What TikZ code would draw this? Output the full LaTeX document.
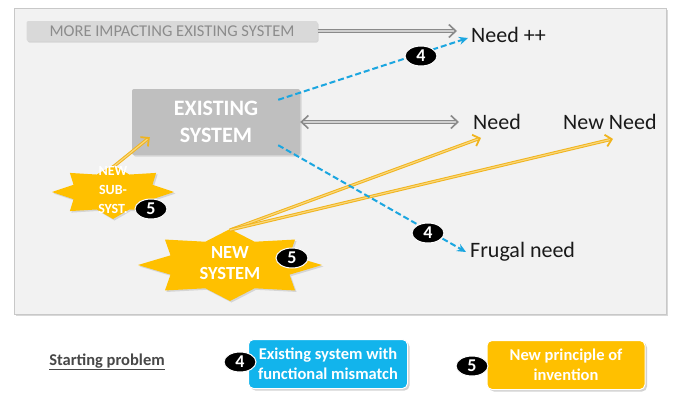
\documentclass[tikz,border=0pt]{standalone}
\usepackage{fontspec}
\setmainfont{Carlito}
\usetikzlibrary{arrows.meta,shapes.geometric,shadows,calc}
\definecolor{panelfill}{HTML}{F2F2F2}
\definecolor{panelline}{HTML}{C8C8C8}
\definecolor{barfill}{HTML}{D9D9D9}
\definecolor{bartext}{HTML}{8C8C8C}
\definecolor{existfill}{HTML}{BFBFBF}
\definecolor{blueln}{HTML}{1BA6E0}
\definecolor{legblue}{HTML}{12B4EC}
\definecolor{gold}{HTML}{FFC000}
\definecolor{goldln}{HTML}{F0B41E}
\definecolor{goldin}{HTML}{FAD77A}
\definecolor{grayln}{HTML}{8A8A8A}
\definecolor{grayin}{HTML}{D0D0D0}
\definecolor{darktext}{HTML}{1A1A1A}
\tikzset{
  lbl/.style={anchor=west, text=darktext, font=\fontsize{22}{22}\selectfont, inner sep=0pt},
  badge/.style={ellipse, fill=black, draw=white, line width=1pt, text=white,
    font=\bfseries\fontsize{18}{18}\selectfont, minimum width=32pt, minimum height=20pt, inner sep=0pt},
  barb/.tip={Straight Barb[length=7pt,width=13pt,line width=1.6pt]},
  grayarrow/.style={draw=grayln, double=grayin, double distance=1.6pt, line width=1.1pt, -barb},
  goldarrow/.style={draw=goldln, double=goldin, double distance=1.2pt, line width=1pt,
    -{Straight Barb[length=6pt,width=12pt,line width=1.8pt]}},
  bluearrow/.style={draw=blueln, line width=2pt, dash pattern=on 6pt off 3pt,
    -{Stealth[length=9pt,width=8pt]}},
  starfill/.style={fill=gold, drop shadow={shadow xshift=1.5pt, shadow yshift=-1.5pt, opacity=0.25}},
  startext/.style 2 args={align=center, text=white, font=\bfseries\fontsize{#1}{#2}\selectfont, inner sep=0pt},
  legbox/.style={rounded corners=5pt, draw=white, line width=1pt, text=white, align=center,
    minimum width=159pt, minimum height=49pt, inner sep=0pt,
    font=\bfseries\fontsize{16.5}{20}\selectfont,
    drop shadow={shadow xshift=2pt, shadow yshift=-2pt, opacity=0.35}}
}
\begin{document}
\begin{tikzpicture}[x=1pt,y=-1pt]
\useasboundingbox (0,0) rectangle (680,394);
\fill[white] (0,0) rectangle (680,394);
% panel
\draw[draw=panelline, fill=panelfill, drop shadow={shadow xshift=2pt, shadow yshift=-2pt, opacity=0.3}] (14,8) rectangle (666,314);
% top bar
\node[fill=barfill, minimum width=291pt, minimum height=20pt, inner sep=0pt, rounded corners=2pt,
  text=bartext, font=\fontsize{16.5}{16.5}\selectfont,
  drop shadow={shadow xshift=1pt, shadow yshift=-1.5pt, opacity=0.25}] (more) at (172,31) {MORE IMPACTING EXISTING SYSTEM\hspace{20pt}};
% labels
\node[lbl] (needpp) at (471,35) {Need ++};
\node[lbl] (need) at (473,122) {Need};
\node[lbl] (newneed) at (563,122) {New Need};
\node[lbl] (frugal) at (470,252) {Frugal need};
% existing system
\node[fill=existfill, minimum width=168pt, minimum height=66pt, inner sep=0pt, rounded corners=2pt,
  align=center, text=white, font=\bfseries\fontsize{22}{27}\selectfont,
  drop shadow={shadow xshift=1.5pt, shadow yshift=-1.5pt, opacity=0.25}] (exist) at (216,122) {EXISTING\\SYSTEM};
% stars
\fill[starfill] plot[variable=\i, samples at={0,...,15}]
  ({113+61*(1-0.3*mod(\i,2))*cos(22.5*\i)},{192+27*(1-0.3*mod(\i,2))*sin(22.5*\i)}) -- cycle;
\fill[starfill] plot[variable=\i, samples at={0,...,15}]
  ({230+92*(1-0.3*mod(\i,2))*cos(22.5*\i)},{265+36*(1-0.3*mod(\i,2))*sin(22.5*\i)}) -- cycle;
\coordinate (subtop) at (113,167);
\coordinate (systop) at (230,230);
% gold arrows
\draw[goldarrow] (subtop) -- ($(exist.south west)+(18,-18)$);
\draw[goldarrow] (systop) -- ($(need.south west)+(8,8)$);
\draw[goldarrow] (systop) -- ($(newneed.south west)+(50,9)$);
\node[startext={14}{19}] (subsys) at (113,190) {NEW\\SUB-\\SYST.};
\node[startext={18.5}{21}] (newsys) at (230,263) {NEW\\SYSTEM};
% gray arrows
\draw[grayarrow] (more.east) -- ($(needpp.west |- more.east)+(-14,0)$);
\draw[grayarrow, barb-barb] (exist.east) -- ($(need.west)+(-14,0)$);
% blue arrows
\draw[bluearrow] ($(exist.north east)+(-22,11)$) -- ($(needpp.west)+(-3,3)$);
\draw[bluearrow] ($(exist.south east)+(-22,-10)$) -- ($(frugal.west)+(-4,0)$);
% badges
\node[badge] (b4a) at (421,56) {4};
\node[badge] (b4b) at (428,233) {4};
\node[badge] (b5a) at (151,209) {5};
\node[badge] (b5b) at (292,258) {5};
% legend
\node[text=darktext!80, font=\bfseries\fontsize{16.5}{16.5}\selectfont] (start) at (107,362) {\underline{Starting problem}};
\node[legbox, fill=legblue] (leg4) at (328,364) {Existing system with\\functional mismatch};
\node[legbox, fill=gold, minimum width=158pt] (leg5) at (566,365) {New principle of\\invention};
\node[badge] (lb4) at (240,362) {4};
\node[badge] (lb5) at (472,366) {5};
\end{tikzpicture}
\end{document}
